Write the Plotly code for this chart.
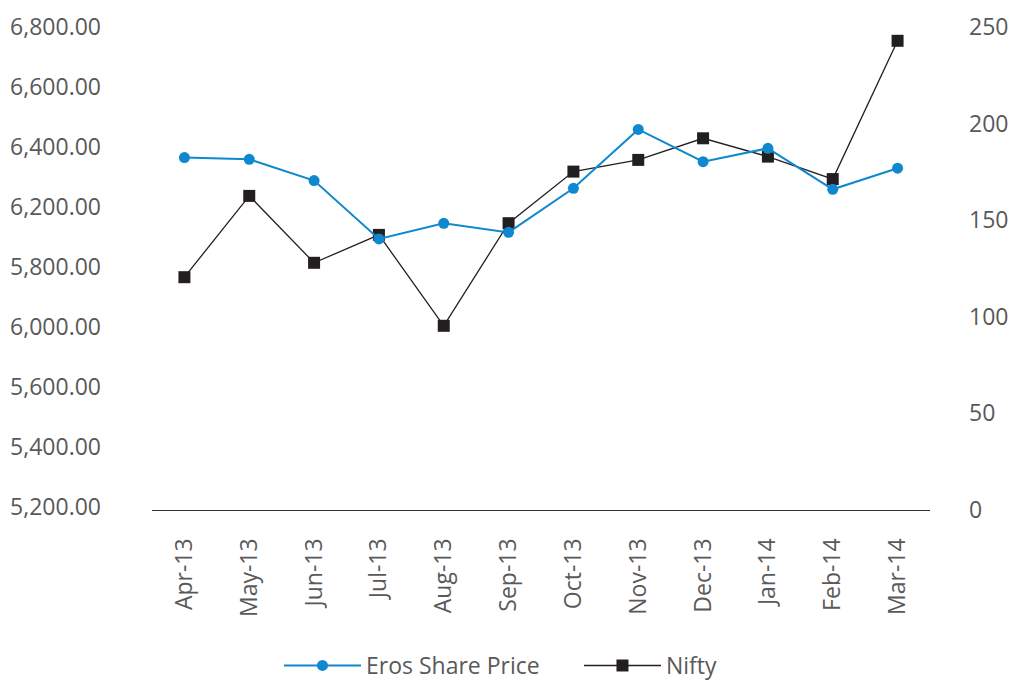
import plotly.graph_objects as go

months = ["Apr-13", "May-13", "Jun-13", "Jul-13", "Aug-13", "Sep-13",
          "Oct-13", "Nov-13", "Dec-13", "Jan-14", "Feb-14", "Mar-14"]
eros_share_price = [182.4, 181.5, 170.5, 140.3, 148.4, 143.7,
                    166.5, 197.0, 180.3, 187.2, 166.0, 176.9]
nifty = [5966, 6237, 6014, 6107, 5804, 6146,
         6318, 6357, 6429, 6368, 6293, 6754]

left_tick_vals = [5200, 5400, 5600, 5800, 6000, 6200, 6400, 6600, 6800]
left_tick_text = ["5,200.00", "5,400.00", "5,600.00", "6,000.00", "5,800.00",
                  "6,200.00", "6,400.00", "6,600.00", "6,800.00"]
right_tick_vals = [0, 50, 100, 150, 200, 250]

BLUE = "#0f88cf"
BLACK = "#231f20"
GREY = "#595959"
FONT = "Open Sans"

fig = go.Figure()
fig.add_trace(go.Scatter(
    x=months, y=eros_share_price, name="Eros Share Price", yaxis="y2",
    mode="lines+markers",
    line=dict(color=BLUE, width=2),
    marker=dict(symbol="circle", size=11, color=BLUE),
))
fig.add_trace(go.Scatter(
    x=months, y=nifty, name="Nifty", yaxis="y",
    mode="lines+markers",
    line=dict(color=BLACK, width=1.3),
    marker=dict(symbol="square", size=12, color=BLACK),
))

fig.update_layout(
    width=1012, height=682,
    margin=dict(l=152, r=82, t=27, b=172, autoexpand=False),
    paper_bgcolor="white", plot_bgcolor="white",
    font=dict(family=FONT, size=23, color=GREY),
    showlegend=True,
    legend=dict(orientation="h", x=0.1632, xanchor="left", y=-0.322, yanchor="middle",
                font=dict(family=FONT, size=23, color=GREY), itemwidth=77,
                entrywidth=208, traceorder="normal"),
    xaxis=dict(
        type="category", range=[-0.5, 11.5], automargin=False,
        showline=True, linecolor="#333333", linewidth=1.3,
        showgrid=False, zeroline=False, ticks="",
        tickangle=-90, ticklabelstandoff=18,
        tickfont=dict(family=FONT, size=23, color=GREY),
    ),
    yaxis=dict(
        range=[5190, 6800], showgrid=False, zeroline=False, showline=False,
        automargin=False,
        tickmode="array", tickvals=left_tick_vals, ticktext=left_tick_text,
        ticks="", ticklabelstandoff=50,
        tickfont=dict(family=FONT, size=23, color=GREY),
    ),
    yaxis2=dict(
        range=[0, 250], overlaying="y", side="right", automargin=False,
        showgrid=False, zeroline=False, showline=False,
        tickmode="array", tickvals=right_tick_vals,
        ticks="", ticklabelstandoff=38,
        tickfont=dict(family=FONT, size=23, color=GREY),
    ),
)

fig.write_html("out.html", config={"displayModeBar": False},
               post_script="document.body.style.margin='0';")
